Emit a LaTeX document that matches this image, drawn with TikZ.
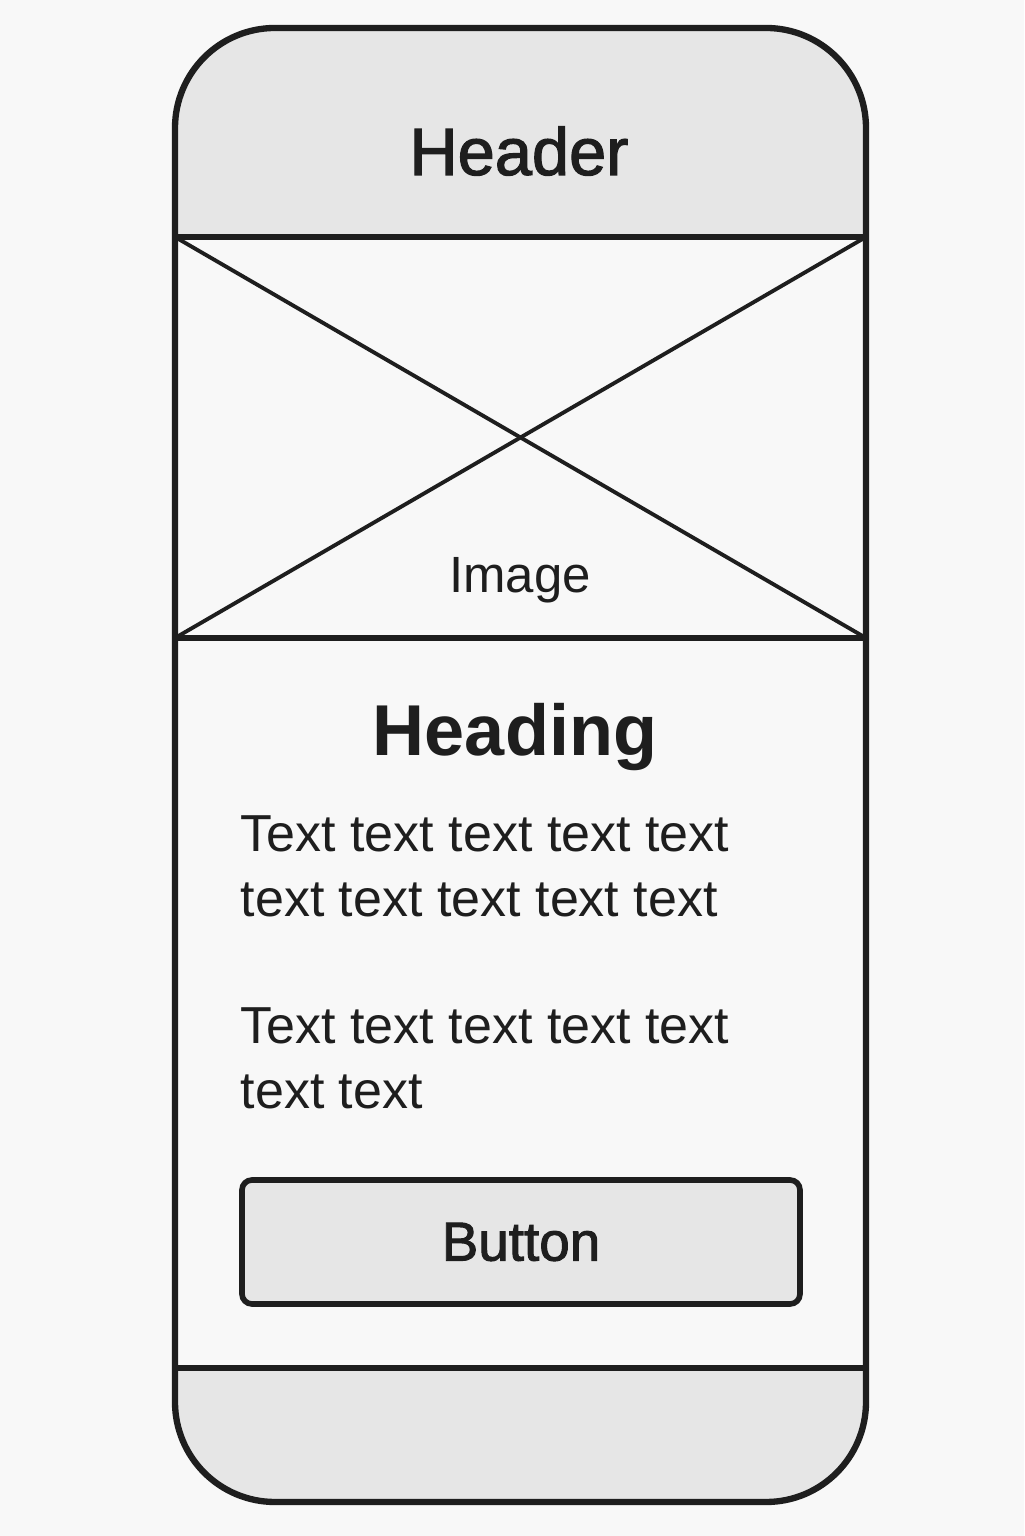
\documentclass[tikz,border=0pt]{standalone}
\usepackage{fontspec}
\setmainfont{Liberation Sans}
\newfontfamily\medfont[FakeBold=1.8]{Liberation Sans}
\usetikzlibrary{positioning}

\definecolor{paper}{HTML}{F8F8F8}
\definecolor{panel}{HTML}{E6E6E6}
\definecolor{ink}{HTML}{1E1E1E}

\begin{document}
\begin{tikzpicture}[
        frame/.style = {draw=ink, line width=1.8pt},
        bar/.style = {draw=ink, line width=1.6pt},
        cross/.style = {draw=ink, line width=1.1pt},
        btn/.style = {draw=ink, fill=panel, line width=1.6pt, rounded corners=0.1cm,
                      minimum width=5.58cm, minimum height=1.24cm, inner sep=0pt,
                      font=\medfont\fontsize{15.6}{18}\selectfont, text=ink},
        label/.style = {inner sep=0pt, text=ink},
        body/.style = {inner sep=0pt, text=ink, align=left, anchor=base west,
                       font=\fontsize{14.8}{18.5}\selectfont}
    ]

            %\draw [help lines] (0,0) grid (10,15);
            \fill[paper] (0,0) rectangle (10.24,15.36);
            \useasboundingbox (0,0) rectangle (10.24,15.36);

            \coordinate (phoneSW) at (1.75,0.34);
            \coordinate (phoneNE) at (8.66,15.08);
            \coordinate (imgNW) at (1.75,12.99);
            \coordinate (imgNE) at (8.66,12.99);
            \coordinate (imgSW) at (1.75,8.98);
            \coordinate (imgSE) at (8.66,8.98);
            \coordinate (footW) at (1.75,1.68);
            \coordinate (footE) at (8.66,1.68);

            % header and footer panels
            \begin{scope}
                \clip[rounded corners=1cm] (phoneSW) rectangle (phoneNE);
                \fill[paper] (phoneSW) rectangle (phoneNE);
                \fill[panel] (imgNW) rectangle (phoneNE);
                \fill[panel] (phoneSW) rectangle (footE);
            \end{scope}

            \draw[cross] (imgNW) -- (imgSE);
            \draw[cross] (imgNE) -- (imgSW);
            \draw[bar] (imgNW) -- (imgNE);
            \draw[bar] (imgSW) -- (imgSE);
            \draw[bar] (footW) -- (footE);
            \draw[frame, rounded corners=1cm] (phoneSW) rectangle (phoneNE);

            % base of a two-line node is its last line
            \path   (5.19,13.61) node (header) [label, anchor=base, font=\medfont\fontsize{19}{22}\selectfont] {Header}
                    (5.20,9.43) node (image) [label, anchor=base, font=\fontsize{14.5}{17}\selectfont] {Image}
                    (5.15,7.80) node (heading) [label, anchor=base, font=\bfseries\fontsize{20.5}{24}\selectfont] {Heading}
                    (2.40,6.19) node (para1) [body] {Text text text text text\\text text text text text}
                    (2.40,4.27) node (para2) [body] {Text text text text text\\text text}
                    (5.21,2.94) node (button) [btn] {Button};
        \end{tikzpicture}
\end{document}
